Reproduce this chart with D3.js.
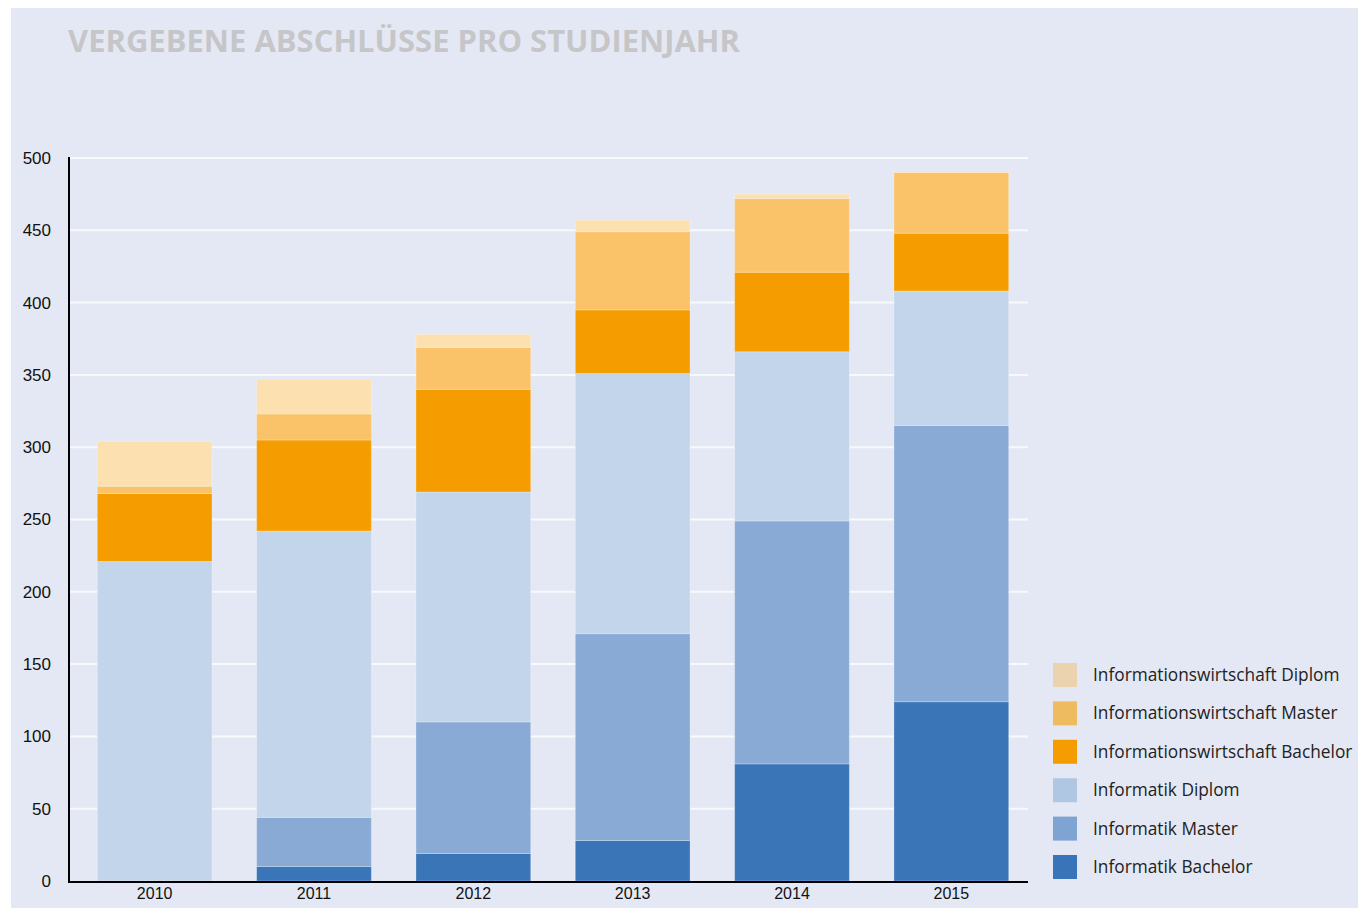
<!DOCTYPE html>
<html>
<head>
<meta charset="utf-8">
<script src="https://cdn.jsdelivr.net/npm/d3@7"></script>
<style>
  body { margin: 0; background: #fff; }
  svg { display: block; font-family: "Open Sans", "Noto Sans", sans-serif; }
</style>
</head>
<body>
<svg id="chart" width="1358" height="908"></svg>
<script>
// values, bottom segment first
const years = ["2010", "2011", "2012", "2013", "2014", "2015"]
const seriesNames = ["Informatik Bachelor", "Informatik Master", "Informatik Diplom",
  "Informationswirtschaft Bachelor", "Informationswirtschaft Master", "Informationswirtschaft Diplom"]
const infBachelor = [0, 10, 19, 28, 81, 124]
const infMaster = [0, 34, 91, 143, 168, 191]
const infDiplom = [221, 198, 159, 180, 117, 93]
const iwBachelor = [47, 63, 71, 44, 55, 40]
const iwMaster = [5, 18, 29, 54, 51, 42]
const iwDiplom = [31, 24, 9, 8, 3, 1]
const yTicks = [0, 50, 100, 150, 200, 250, 300, 350, 400, 450, 500]

const barColors = ["#3a75b8", "#88aad4", "#c3d5ea", "#f59d00", "#fac369", "#fce0b0"]
const legendColors = ["#3a74b8", "#7fa3d3", "#b0c7e4", "#f59d00", "#efbb60", "#ebd3b0"]

const svg = d3.select("#chart")

// panel background
svg.append("rect").attr("x", 11).attr("y", 8).attr("width", 1347).attr("height", 900)
  .attr("fill", "#e4e8f4")

svg.append("text")
  .attr("x", 68).attr("y", 52)
  .attr("font-size", 30).attr("font-weight", "bold")
  .attr("fill", "#c6c6c8")
  .attr("textLength", 672).attr("lengthAdjust", "spacingAndGlyphs")
  .text("VERGEBENE ABSCHLÜSSE PRO STUDIENJAHR")

const plotL = 69, plotR = 1028, plotT = 157, plotB = 881

const x = d3.scaleBand().domain(years).range([75, 1031]).paddingInner(0.28).paddingOuter(0.14)
const y = d3.scaleLinear().domain([0, 500]).range([plotB, plotT + 1])

// gridlines
svg.append("g").selectAll("line").data(yTicks.filter(d => d > 0)).join("line")
  .attr("x1", plotL).attr("x2", plotR)
  .attr("y1", d => y(d)).attr("y2", d => y(d))
  .attr("stroke", "#ffffff").attr("stroke-opacity", 0.75).attr("stroke-width", 2)

const rows = years.map((yr, i) => ({
  year: yr,
  s0: infBachelor[i], s1: infMaster[i], s2: infDiplom[i],
  s3: iwBachelor[i], s4: iwMaster[i], s5: iwDiplom[i]
}))
const keys = ["s0", "s1", "s2", "s3", "s4", "s5"]
const stacked = d3.stack().keys(keys)(rows)

svg.append("g").selectAll("g").data(stacked).join("g")
  .attr("fill", (d, i) => barColors[i])
  .selectAll("rect").data(d => d).join("rect")
  .attr("x", d => x(d.data.year))
  .attr("width", x.bandwidth())
  .attr("y", d => y(d[1]))
  .attr("height", d => y(d[0]) - y(d[1]))
  .attr("stroke", "#ffffff").attr("stroke-opacity", 0.25).attr("stroke-width", 1)

// axes
const yAxis = d3.axisLeft(y).tickValues(yTicks).tickSize(0).tickPadding(18)
const gy = svg.append("g").attr("transform", `translate(${plotL},0)`).call(yAxis)
gy.select(".domain").remove()
gy.selectAll("text").attr("font-size", 17).attr("fill", "#111")

const xAxis = d3.axisBottom(x).tickSize(0).tickPadding(6)
const gx = svg.append("g").attr("transform", `translate(0,${plotB + 1})`).call(xAxis)
gx.select(".domain").remove()
gx.selectAll("text").attr("font-size", 16).attr("fill", "#111")

svg.append("line").attr("x1", plotL).attr("x2", plotL).attr("y1", plotT).attr("y2", plotB + 2)
  .attr("stroke", "#000").attr("stroke-width", 2)
svg.append("line").attr("x1", plotL - 1).attr("x2", plotR).attr("y1", plotB + 1).attr("y2", plotB + 1)
  .attr("stroke", "#000").attr("stroke-width", 2)

// legend, top entry is the last series
const legendOrder = d3.range(seriesNames.length).reverse()
const lg = svg.append("g").selectAll("g").data(legendOrder).join("g")
  .attr("transform", (d, i) => `translate(1053,${663 + i * 38.4})`)
lg.append("rect").attr("width", 24).attr("height", 24).attr("fill", d => legendColors[d])
lg.append("text").attr("x", 40).attr("y", 12).attr("dy", "0.35em")
  .attr("font-size", 17.3).attr("fill", "#222")
  .text(d => seriesNames[d])
</script>
</body>
</html>
